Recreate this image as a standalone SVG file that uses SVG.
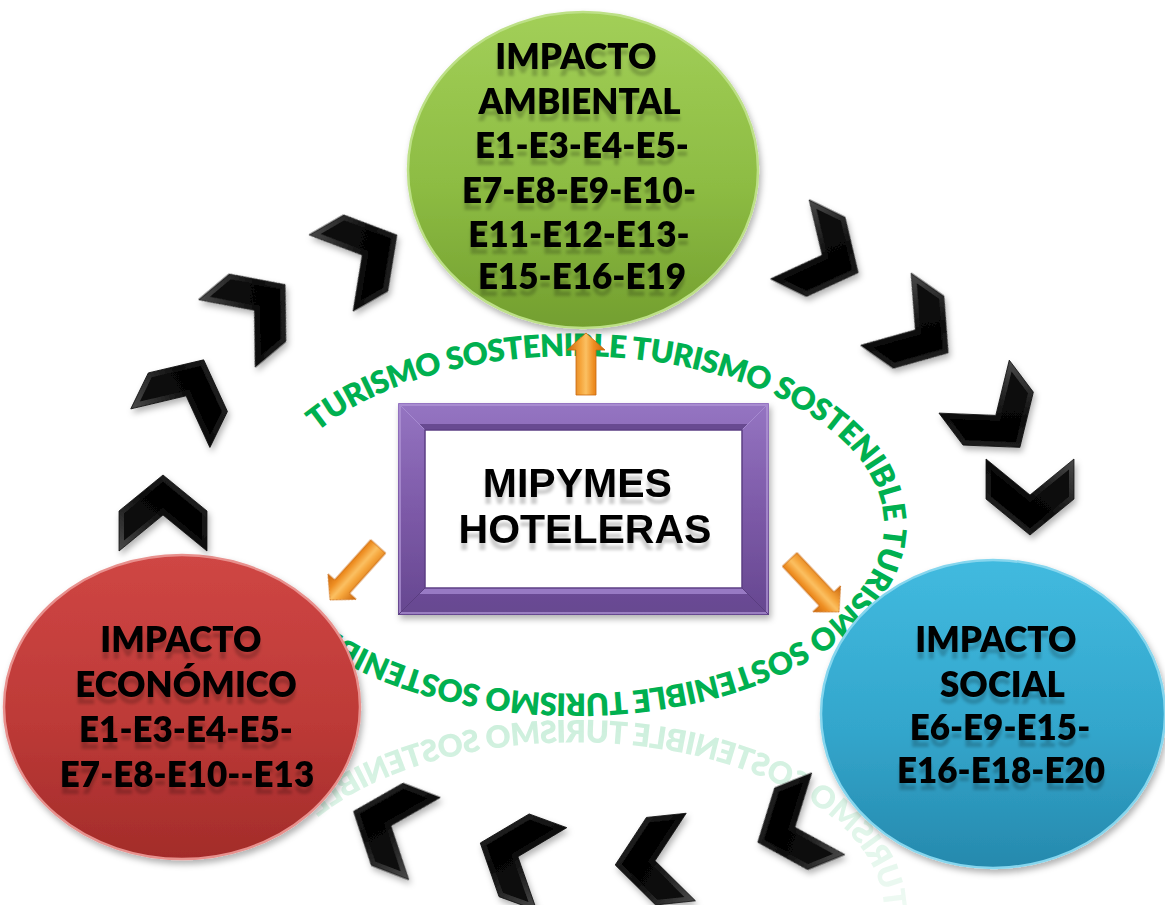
<svg xmlns="http://www.w3.org/2000/svg" xmlns:xlink="http://www.w3.org/1999/xlink" width="1165" height="905" viewBox="0 0 1165 905">
<defs>
  <style>
    .lbl { font-family: Lato, "Liberation Sans", sans-serif; font-weight: 800; font-size: 35px; fill: #000; text-anchor: middle; }
    .boxt { font-family: "Liberation Sans", Arial, sans-serif; font-weight: 700; font-size: 41px; fill: #000; text-anchor: middle; }
    .ring { font-family: Lato, "Liberation Sans", sans-serif; font-weight: 800; font-size: 31px; fill: #00b050; letter-spacing: -0.7px; }
    .chevO { fill: url(#gChevO); stroke: #111; stroke-width: 0.8; }
    .chevI { fill: url(#gChevI); }
    .arr { fill: url(#gArr); stroke: #c9680e; stroke-width: 0.8; }
  </style>
  <linearGradient id="gGreen" x1="0" y1="0" x2="0" y2="1">
    <stop offset="0" stop-color="#a2cf58"/>
    <stop offset="0.55" stop-color="#8dbc43"/>
    <stop offset="1" stop-color="#739f2f"/>
  </linearGradient>
  <linearGradient id="gRed" x1="0" y1="0" x2="0" y2="1">
    <stop offset="0" stop-color="#cf4644"/>
    <stop offset="0.55" stop-color="#bd3a37"/>
    <stop offset="1" stop-color="#a32c2a"/>
  </linearGradient>
  <linearGradient id="gBlue" x1="0" y1="0" x2="0" y2="1">
    <stop offset="0" stop-color="#41badf"/>
    <stop offset="0.55" stop-color="#33a6cc"/>
    <stop offset="1" stop-color="#2689ad"/>
  </linearGradient>
  <linearGradient id="gFrame" x1="0" y1="0" x2="0" y2="1">
    <stop offset="0" stop-color="#9575c2"/>
    <stop offset="0.5" stop-color="#7d5aa8"/>
    <stop offset="1" stop-color="#664790"/>
  </linearGradient>
  <linearGradient id="gChevO" x1="0" y1="0" x2="1" y2="1">
    <stop offset="0" stop-color="#4a4a4a"/>
    <stop offset="0.5" stop-color="#0d0d0d"/>
    <stop offset="1" stop-color="#2a2a2a"/>
  </linearGradient>
  <linearGradient id="gChevI" x1="0" y1="0" x2="1" y2="1">
    <stop offset="0" stop-color="#0c0c0c"/>
    <stop offset="1" stop-color="#000"/>
  </linearGradient>
  <linearGradient id="gArr" x1="0" y1="0" x2="1" y2="0">
    <stop offset="0" stop-color="#c9650c"/>
    <stop offset="0.35" stop-color="#f5a43a"/>
    <stop offset="0.5" stop-color="#fbc062"/>
    <stop offset="0.7" stop-color="#ee8e22"/>
    <stop offset="1" stop-color="#c9650c"/>
  </linearGradient>
  <linearGradient id="gFade" gradientUnits="userSpaceOnUse" x1="0" y1="716" x2="0" y2="905">
    <stop offset="0" stop-color="#fff"/>
    <stop offset="1" stop-color="#555"/>
  </linearGradient>
  <mask id="reflMask" maskUnits="userSpaceOnUse" x="0" y="0" width="1165" height="905">
    <rect x="0" y="717" width="1165" height="188" fill="url(#gFade)"/>
  </mask>
  <filter id="tsh" x="-10%" y="-20%" width="120%" height="160%">
    <feGaussianBlur in="SourceAlpha" stdDeviation="1.6" result="b"/>
    <feOffset in="b" dy="7" result="o"/>
    <feFlood flood-color="#000" flood-opacity="0.2"/>
    <feComposite in2="o" operator="in" result="s"/>
    <feMerge><feMergeNode in="s"/><feMergeNode in="SourceGraphic"/></feMerge>
  </filter>
  <filter id="dsh" x="-10%" y="-10%" width="125%" height="130%">
    <feGaussianBlur in="SourceAlpha" stdDeviation="3" result="b"/>
    <feOffset in="b" dx="2" dy="4" result="o"/>
    <feFlood flood-color="#000" flood-opacity="0.3"/>
    <feComposite in2="o" operator="in" result="s"/>
    <feMerge><feMergeNode in="s"/><feMergeNode in="SourceGraphic"/></feMerge>
  </filter>
  <g id="chev">
    <polygon class="chevO" points="-38,-44 2,-44 38,0 2,44 -38,44 -2,0"/>
    <polygon class="chevI" points="-27.5,-39 -0.4,-39 31.5,0 -0.4,39 -27.5,39 4.5,0"/>
  </g>
  <path id="ringPath" d="M266,525 A309,169 0 0 1 884,525 A309,169 0 0 1 295,596" fill="none"/>
</defs>

<rect width="1165" height="905" fill="#fff"/>

<g id="ring-text">
  <g id="ring">
    <text class="ring"><textPath href="#ringPath" startOffset="110">TURISMO SOSTENIBLE TURISMO SOSTENIBLE TURISMO SOSTENIBLE TURISMO SOSTENIBLE</textPath></text>
  </g>
  <g mask="url(#reflMask)" opacity="0.2">
    <use href="#ring" transform="translate(0,1436) scale(1,-1)"/>
  </g>
</g>

<g id="node-ambiental">
  <ellipse cx="583" cy="170" rx="175" ry="158" fill="url(#gGreen)" stroke="#bde087" stroke-width="2.5" filter="url(#dsh)"/>
  <text class="lbl" filter="url(#tsh)">
    <tspan x="580" y="69">IMPACTO</tspan>
    <tspan x="583" y="114">AMBIENTAL</tspan>
    <tspan x="586" y="158">E1-E3-E4-E5-</tspan>
    <tspan x="583" y="203">E7-E8-E9-E10-</tspan>
    <tspan x="583" y="247">E11-E12-E13-</tspan>
    <tspan x="582" y="289">E15-E16-E19</tspan>
  </text>
</g>

<g id="node-economico">
  <ellipse cx="182" cy="707" rx="178" ry="152" fill="url(#gRed)" stroke="#e8908d" stroke-width="2.5" filter="url(#dsh)"/>
  <text class="lbl" filter="url(#tsh)">
    <tspan x="185" y="652">IMPACTO</tspan>
    <tspan x="190" y="697">ECONÓMICO</tspan>
    <tspan x="190" y="742">E1-E3-E4-E5-</tspan>
    <tspan x="187" y="787">E7-E8-E10--E13</tspan>
  </text>
</g>

<g id="node-social">
  <ellipse cx="993" cy="714" rx="172" ry="154" fill="url(#gBlue)" stroke="#86d6ee" stroke-width="2.5" filter="url(#dsh)"/>
  <text class="lbl" filter="url(#tsh)">
    <tspan x="1000" y="652">IMPACTO</tspan>
    <tspan x="1006" y="697">SOCIAL</tspan>
    <tspan x="1004" y="740">E6-E9-E15-</tspan>
    <tspan x="1001" y="783">E16-E18-E20</tspan>
  </text>
</g>

<g id="node-mipymes">
  <g filter="url(#dsh)">
    <rect x="398" y="403" width="371" height="212" fill="url(#gFrame)"/>
  </g>
  <rect x="400" y="405" width="367" height="208" fill="none" stroke="#b096d6" stroke-width="2" opacity="0.7"/>
  <polygon points="425,588 742,588 748,594 419,594" fill="#a486cf" opacity="0.8"/>
  <polygon points="419,424 748,424 742,430 425,430" fill="#5e4186" opacity="0.8"/>
  <line x1="398" y1="403" x2="425" y2="430" stroke="#a68ad0" stroke-width="1"/>
  <line x1="769" y1="403" x2="742" y2="430" stroke="#a68ad0" stroke-width="1"/>
  <line x1="398" y1="615" x2="425" y2="588" stroke="#5a3e80" stroke-width="1"/>
  <line x1="769" y1="615" x2="742" y2="588" stroke="#5a3e80" stroke-width="1"/>
  <rect x="425" y="430" width="317" height="158" fill="#fff" stroke="#5c3f84" stroke-width="1.5"/>
  <text class="boxt" filter="url(#tsh)">
    <tspan x="583" y="497">MIPYMES</tspan>
    <tspan x="585" y="543">HOTELERAS</tspan>
  </text>
</g>

<g id="connectors">
  <g id="chevrons" filter="url(#dsh)">
    <use href="#chev" transform="translate(163,513) rotate(-90)"/>
    <use href="#chev" transform="translate(187,394) rotate(-64)"/>
    <use href="#chev" transform="translate(256,309) rotate(-40)"/>
    <use href="#chev" transform="translate(364,254) rotate(-30)"/>
    <use href="#chev" transform="translate(824,256) rotate(26)"/>
    <use href="#chev" transform="translate(917,331) rotate(35)"/>
    <use href="#chev" transform="translate(997,417) rotate(53)"/>
    <use href="#chev" transform="translate(1030,497) rotate(90)"/>
    <use href="#chev" transform="translate(793,828) rotate(158)"/>
    <use href="#chev" transform="translate(653,861) rotate(174)"/>
    <use href="#chev" transform="translate(516,856) rotate(200)"/>
    <use href="#chev" transform="translate(389,825) rotate(201)"/>
  </g>
  <g id="arrows">
    <polygon class="arr" transform="translate(586,333)" points="0,0 19,17 10,17 10,62 -10,62 -10,17 -19,17"/>
    <polygon class="arr" transform="translate(330,600) rotate(-138)" points="0,0 19,18 10,18 10,72 -10,72 -10,18 -19,18"/>
    <polygon class="arr" transform="translate(839,612) rotate(136.8)" points="0,0 19,18 10,18 10,72 -10,72 -10,18 -19,18"/>
  </g>
</g>
</svg>
